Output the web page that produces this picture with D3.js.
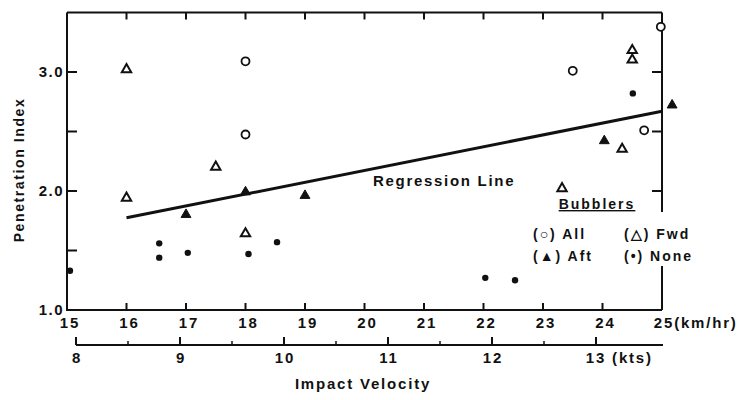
<!DOCTYPE html>
<html>
<head>
<meta charset="utf-8">
<script src="https://cdn.jsdelivr.net/npm/d3@7"></script>
<style>
  html, body { margin: 0; padding: 0; background: #fff; }
  svg { display: block; }
  text { font-family: "Liberation Sans", Arial, sans-serif; font-weight: bold; fill: #111; }
</style>
</head>
<body>
<svg id="chart" width="749" height="400"></svg>
<script>
// ---- data ----
const kmhTicks = [15, 16, 17, 18, 19, 20, 21, 22, 23, 24, 25];
const ktsMajorTicks = [8, 9, 10, 11, 12, 13];
const ktsMinorTicks = [8.5, 9.5, 10.5, 11.5, 12.5];
const yLabelTicks = [1.0, 2.0, 3.0];
const yMinorTicks = [1.5, 2.0, 2.5, 3.0];
const rightTicks = [2.0, 2.5, 3.0];

// Bubblers: All (open circle)
const allPts = [[18, 3.09], [18, 2.475], [23.5, 3.01], [24.98, 3.38], [24.7, 2.51]];
// Fwd (open triangle)
const fwdPts = [[16, 3.03], [16, 1.95], [17.5, 2.21], [18, 1.65], [24.5, 3.19], [24.5, 3.11], [24.33, 2.36], [23.32, 2.03]];
// Aft (filled triangle)
const aftPts = [[17, 1.81], [18, 2.0], [19, 1.97], [24.03, 2.43], [25.17, 2.73]];
// None (dot)
const nonePts = [[15.05, 1.33], [16.55, 1.56], [16.55, 1.44], [17.03, 1.48], [18.05, 1.47], [18.53, 1.57], [22.03, 1.27], [22.53, 1.25], [24.51, 2.82]];
// Regression line endpoints
const regression = [[16, 1.775], [25, 2.67]];

// ---- layout ----
const svg = d3.select("#chart");
const x = d3.scaleLinear().domain([15, 25]).range([67, 662]);
const y = d3.scaleLinear().domain([1.0, 3.5]).range([310, 12.5]);
const xk = d3.scaleLinear().domain([8, 13]).range([76, 596]);
const ink = "#111";

// frame: left, top, bottom
const g = svg.append("g");
g.append("path")
  .attr("d", `M${x(15)},${y(3.5)} L${x(25)},${y(3.5)} M${x(15)},${y(3.5)} L${x(15)},${y(1.0)} L${x(25)},${y(1.0)}`)
  .attr("fill", "none").attr("stroke", ink).attr("stroke-width", 2);
// right axis, broken where the legend sits
g.append("path")
  .attr("d", `M${x(25)},${y(3.5)} L${x(25)},212 M${x(25)},266 L${x(25)},${y(1.0)}`)
  .attr("fill", "none").attr("stroke", ink).attr("stroke-width", 2);

// bottom ticks (inward)
g.selectAll(".bt").data(kmhTicks.slice(1, -1)).join("line")
  .attr("x1", d => x(d)).attr("x2", d => x(d))
  .attr("y1", y(1.0)).attr("y2", y(1.0) - 7)
  .attr("stroke", ink).attr("stroke-width", 2);
// top ticks
g.selectAll(".tt").data(kmhTicks.slice(1, -1)).join("line")
  .attr("x1", d => x(d)).attr("x2", d => x(d))
  .attr("y1", y(3.5)).attr("y2", y(3.5) + 7)
  .attr("stroke", ink).attr("stroke-width", 2);
// left ticks
g.selectAll(".lt").data(yMinorTicks).join("line")
  .attr("x1", x(15)).attr("x2", x(15) + 10)
  .attr("y1", d => y(d)).attr("y2", d => y(d))
  .attr("stroke", ink).attr("stroke-width", 2);
// right ticks
g.selectAll(".rt").data(rightTicks).join("line")
  .attr("x1", x(25)).attr("x2", x(25) - 10)
  .attr("y1", d => y(d)).attr("y2", d => y(d))
  .attr("stroke", ink).attr("stroke-width", 2);

// y labels
g.selectAll(".yl").data(yLabelTicks).join("text")
  .attr("x", x(15) - 3).attr("y", d => y(d))
  .attr("dy", "0.36em").attr("text-anchor", "end")
  .attr("font-size", 15).attr("letter-spacing", 1.5)
  .text(d => d.toFixed(1));

// km/hr labels
const fmt = d3.format("d");
kmhTicks.forEach(d => {
  const t = g.append("text")
    .attr("x", x(d) + 3).attr("y", 328)
    .attr("text-anchor", "middle")
    .attr("font-size", 15).attr("letter-spacing", 1.8)
    .text(fmt(d));
  if (d === 25) {
    const w = t.node().getComputedTextLength();
    t.attr("text-anchor", "start").attr("x", x(d) - w / 2 + 2);
    t.append("tspan").text("(km/hr)");
  }
});

// kts axis
const kg = svg.append("g");
kg.append("line")
  .attr("x1", xk(8)).attr("x2", x(25) + 1)
  .attr("y1", 345).attr("y2", 345)
  .attr("stroke", ink).attr("stroke-width", 2);
kg.selectAll(".km").data(ktsMajorTicks).join("line")
  .attr("x1", d => xk(d)).attr("x2", d => xk(d))
  .attr("y1", 345).attr("y2", 337)
  .attr("stroke", ink).attr("stroke-width", 2);
kg.selectAll(".kn").data(ktsMinorTicks).join("line")
  .attr("x1", d => xk(d)).attr("x2", d => xk(d))
  .attr("y1", 345).attr("y2", 341)
  .attr("stroke", ink).attr("stroke-width", 1.5);
ktsMajorTicks.forEach(d => {
  const t = kg.append("text")
    .attr("x", xk(d) + 1).attr("y", 363)
    .attr("text-anchor", "middle")
    .attr("font-size", 15).attr("letter-spacing", 1.8)
    .text(fmt(d));
  if (d === 13) {
    const w = t.node().getComputedTextLength();
    t.attr("text-anchor", "start").attr("x", xk(d) - w / 2);
    t.append("tspan").text(" (kts)");
  }
});

// axis titles
svg.append("text")
  .attr("x", 363).attr("y", 389)
  .attr("text-anchor", "middle")
  .attr("font-size", 15).attr("letter-spacing", 1.8)
  .text("Impact Velocity");
svg.append("text")
  .attr("transform", "translate(24,170) rotate(-90)")
  .attr("text-anchor", "middle")
  .attr("font-size", 14).attr("letter-spacing", 1.6)
  .text("Penetration Index");

// regression line
svg.append("path")
  .datum(regression)
  .attr("d", d3.line().x(d => x(d[0])).y(d => y(d[1])))
  .attr("fill", "none").attr("stroke", ink).attr("stroke-width", 3);
svg.append("text")
  .attr("x", 373).attr("y", 186)
  .attr("font-size", 15).attr("letter-spacing", 1.7)
  .text("Regression Line");

// markers
const tri = d3.symbol().type(d3.symbolTriangle);
const pg = svg.append("g");
pg.selectAll(".all").data(allPts).join("circle")
  .attr("cx", d => x(d[0])).attr("cy", d => y(d[1])).attr("r", 4)
  .attr("fill", "#fff").attr("stroke", ink).attr("stroke-width", 1.8);
pg.selectAll(".fwd").data(fwdPts).join("path")
  .attr("transform", d => `translate(${x(d[0])},${y(d[1]) + 1})`)
  .attr("d", tri.size(38))
  .attr("fill", "#fff").attr("stroke", ink).attr("stroke-width", 2);
pg.selectAll(".aft").data(aftPts).join("path")
  .attr("transform", d => `translate(${x(d[0])},${y(d[1]) + 1})`)
  .attr("d", tri.size(42))
  .attr("fill", ink).attr("stroke", ink).attr("stroke-width", 1);
pg.selectAll(".none").data(nonePts).join("circle")
  .attr("cx", d => x(d[0])).attr("cy", d => y(d[1])).attr("r", 3.2)
  .attr("fill", ink);

// legend
const lg = svg.append("g").attr("font-size", 14).attr("letter-spacing", 2);
lg.append("text").attr("x", 597).attr("y", 209).attr("text-anchor", "middle")
  .attr("text-decoration", "underline").text("Bubblers");
lg.append("text").attr("x", 533).attr("y", 239).text("(○) All");
lg.append("text").attr("x", 624).attr("y", 239).text("(△) Fwd");
lg.append("text").attr("x", 533).attr("y", 261).text("(▲) Aft");
lg.append("text").attr("x", 624).attr("y", 261).text("(•) None");
</script>
</body>
</html>
